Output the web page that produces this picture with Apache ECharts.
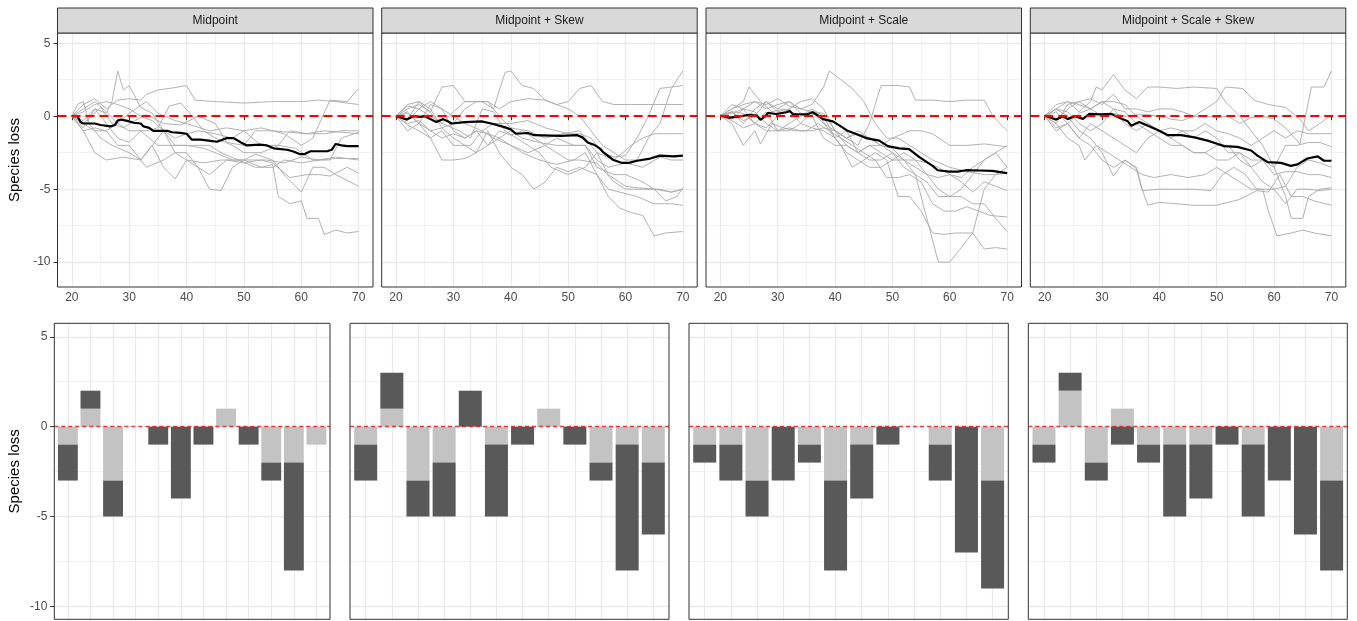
<!DOCTYPE html>
<html><head><meta charset="utf-8">
<script src="https://cdn.jsdelivr.net/npm/echarts@6/dist/echarts.min.js"></script>
<style>html,body{margin:0;padding:0;background:#fff}#c{width:1357px;height:621px}</style>
</head><body><div id="c"></div>
<script>
// ---------------- DATA ----------------
const facetTitles = ['Midpoint', 'Midpoint + Skew', 'Midpoint + Scale', 'Midpoint + Scale + Skew'];
const yTitle = 'Species loss';
const xTicks = [20, 30, 40, 50, 60, 70];
const xMinorTicks = [25, 35, 45, 55, 65];
const yTicks = [-10, -5, 0, 5];
const yMinorTicks = [-7.5, -2.5, 2.5];
const barCategories = [1, 2, 3, 4, 5, 6, 7, 8, 9, 10, 11, 12];

// mean trajectories (black lines)
const meanMidpoint = [[20,0],[21,0],[21.5,-0.4],[22,-0.5],[24,-0.5],[25,-0.6],[26.7,-0.7],[27.5,-0.6],[28,-0.3],[28.5,-0.23],[29.5,-0.3],[30.8,-0.45],[32,-0.5],[32.5,-0.7],[33.5,-0.8],[34.2,-1.0],[36.6,-1.0],[37.5,-1.1],[38.9,-1.14],[40,-1.2],[40.9,-1.6],[42.4,-1.6],[43.5,-1.65],[45.3,-1.75],[46,-1.65],[47,-1.5],[48.2,-1.5],[49.5,-1.8],[50.5,-2.0],[52.8,-1.95],[54,-2.0],[55.2,-2.2],[57.5,-2.3],[58.5,-2.4],[59.8,-2.6],[60.5,-2.6],[61.6,-2.4],[64.5,-2.4],[65.3,-2.3],[66,-1.9],[67,-2.0],[68,-2.05],[70,-2.05]];
const meanSkew = [[20,0],[21,-0.1],[21.8,-0.23],[22.5,-0.1],[23,0],[24.2,-0.05],[25,0],[26,-0.2],[27,-0.4],[28.2,-0.2],[29,-0.35],[29.7,-0.5],[32,-0.4],[34.9,-0.35],[36.6,-0.5],[38.9,-0.75],[40,-0.9],[40.9,-1.2],[43,-1.15],[44.1,-1.3],[48.7,-1.35],[51.6,-1.3],[52.5,-1.45],[53.4,-1.8],[54.5,-1.95],[55.5,-2.2],[56.2,-2.5],[57.9,-3.0],[59.4,-3.2],[60.6,-3.2],[62,-3.05],[64.3,-2.9],[66,-2.7],[68.4,-2.75],[70,-2.7]];
const meanScale = [[20,0.05],[21.6,-0.1],[22.8,-0.05],[25.1,0.1],[26.3,0.05],[27,-0.25],[27.7,-0.05],[28.3,0.23],[29.7,0.15],[31.5,0.27],[32.1,0.35],[32.6,0.15],[35,0.12],[36.1,0.27],[37,0.05],[37.9,-0.2],[39.6,-0.35],[40.8,-0.65],[42.2,-1.0],[44.2,-1.3],[45.4,-1.5],[47.7,-1.67],[49.2,-2.05],[51.2,-2.2],[52.9,-2.25],[54.7,-2.8],[57,-3.4],[57.9,-3.7],[59.9,-3.8],[61.4,-3.8],[62.8,-3.7],[65.1,-3.72],[67.4,-3.75],[70,-3.9]];
const meanScaleSkew = [[20,0.05],[22,-0.23],[23.2,0],[24,-0.2],[25.2,0],[26.7,-0.18],[27.8,0.16],[29.9,0.12],[31.6,0.16],[33,-0.1],[34.5,-0.35],[35.1,-0.65],[36.5,-0.4],[38,-0.65],[39.7,-0.95],[41.5,-1.3],[43.8,-1.3],[46.1,-1.45],[48.4,-1.67],[50.2,-1.9],[51.3,-2.05],[53.6,-2.1],[56,-2.35],[57.1,-2.7],[58.9,-3.15],[61.2,-3.2],[62.9,-3.4],[64.1,-3.3],[65.8,-2.9],[67.6,-2.75],[68.7,-3.05],[70,-3.05]];

// individual runs (grey lines)
const runsMidpoint = [
 [[20,0],[22,0.5],[24,1.0],[26,0.3],[28,-0.5],[30,0.2],[33,1.0],[35,0.2],[38,-0.3],[40,-0.5],[44,-1.0],[47,-0.8],[50,-1.0],[53,-0.8],[57,-1.2],[60,-2.0],[62,-1.5],[65,1.1],[68,1.0],[70,1.9]],
 [[20,0],[22,-0.3],[24,0.5],[26,0.2],[27,1.0],[28,3.1],[29,1.8],[30,2.1],[32,0.6],[34,0.2],[36,-1.0],[38,-2.0],[40,-2.0],[43,-2.2],[45,-2.5],[48,-3.0],[51,-3.0],[54,-3.0],[57,-3.2],[60,-2.8],[63,-3.0],[66,-2.9],[70,-2.9]],
 [[20,0],[22,0.8],[24,1.2],[26,0.5],[28,1.1],[30,1.2],[32,1.1],[33,1.5],[35,1.8],[37,1.9],[40,2.1],[41.5,1.1],[45,1.0],[50,0.9],[55,1.0],[60,1.0],[63,1.1],[66,1.0],[70,0.8]],
 [[20,0],[22,-1.0],[24,-2.5],[26,-3.0],[29,-2.8],[32,-3.0],[34,-2.0],[36,-1.0],[38,-2.5],[40,-3.0],[43,-3.2],[46,-3.0],[50,-3.0],[53,-3.5],[55,-3.3],[56,-5.5],[58,-6.0],[60,-5.8],[61,-7.0],[63,-7.0],[64,-8.1],[66,-7.8],[68,-8.0],[70,-7.9]],
 [[20,0],[21,0.8],[22,1.0],[23,-0.5],[25,-1.5],[27,-2.0],[30,-2.5],[32,-3.0],[34,-2.0],[36,-3.5],[38,-4.3],[40,-3.0],[42,-3.5],[44,-5.0],[46,-5.1],[48,-3.5],[50,-3.0],[52,-2.6],[55,-3.0],[57,-4.0],[60,-5.2],[62,-3.5],[64,-3.5],[66,-4.0],[70,-4.8]],
 [[20,0],[22,-0.5],[24,-1.0],[26,-1.0],[28,-2.0],[30,-2.0],[33,-3.5],[36,-3.0],[38,-2.5],[40,-2.5],[42,-3.5],[44,-4.0],[47,-3.0],[50,-3.2],[53,-3.0],[55,-3.2],[58,-4.2],[61,-4.0],[63,-4.0],[65,-4.1],[68,-3.5],[70,-3.9]],
 [[20,0],[22,-1.0],[24,-0.8],[26,-1.0],[28,-0.5],[30,-1.0],[33,-1.0],[35,-0.8],[37,0.7],[39,0.9],[41,0],[43,-1.0],[45,-1.5],[48,-2.0],[50,-2.5],[53,-2.5],[56,-2.0],[58,-1.0],[61,-1.2],[64,-1.2],[67,-1.0],[70,-1.0]],
 [[20,0],[22,-0.5],[25,0.6],[27,-0.5],[29,-0.8],[31,-0.3],[33,0.1],[36,-0.5],[39,-0.6],[42,0],[45,-0.5],[47,-1.8],[50,-2.0],[52,-1.0],[55,-1.0],[58,-1.1],[61,-1.2],[64,-1.0],[67,-1.1],[70,-1.2]],
 [[20,0],[22,-0.8],[24,0.5],[26,-0.5],[28,-1.5],[30,-1.8],[32,-1.0],[35,-2.0],[38,-2.0],[41,-2.0],[44,-2.0],[46,-2.5],[49,-3.0],[52,-3.5],[55,-3.5],[57,-3.0],[60,-3.2],[63,-3.0],[66,-2.8],[70,-3.0]],
 [[20,0],[22,0.3],[24,0.8],[26,1.0],[28,0.8],[30,0.5],[32,0],[34,-0.3],[36,-1.0],[38,-1.5],[40,-1.2],[42,-1.0],[45,-1.2],[48,-1.5],[50,-1.0],[53,-2.0],[56,-2.0],[59,-2.2],[62,-3.0],[65,-3.0],[67,-1.5],[70,-1.1]]
];
const runsSkew = [
 [[20,0],[22,0.5],[24,0.8],[26,0.3],[28,2.0],[30,2.1],[32,1.0],[34,1.0],[36,1.0],[38,0.5],[40,1.0],[43,1.2],[46,1.1],[48,0.8],[50,1.0],[52,1.9],[54,2.1],[56,1.0],[58,0.8],[61,0.8],[64,0.8],[67,0.8],[70,0.8]],
 [[20,0],[22,-0.2],[24,1.0],[26,0.2],[28,-0.5],[30,0.3],[32,1.0],[35,1.0],[37,0.5],[39,3.0],[40,3.1],[42,2.1],[44,1.9],[46,1.1],[48,0.8],[50,0.5],[52,0],[54,-1.0],[56,-2.0],[58,-2.5],[60,-3.0],[62,-3.0],[64,-1.5],[66,-0.5],[68,1.9],[70,3.1]],
 [[20,0],[22,-0.5],[24,-0.3],[26,-1.0],[28,-1.5],[30,-1.2],[32,-1.5],[34,-1.0],[36,-1.2],[38,-1.5],[40,-2.0],[42,-2.5],[45,-3.0],[48,-3.3],[51,-3.0],[53,-2.5],[55,-4.0],[57,-5.5],[59,-6.3],[61,-6.6],[63,-6.8],[64,-7.5],[65,-8.2],[67,-8.0],[70,-7.9]],
 [[20,0],[22,-1.0],[24,-0.5],[26,-1.5],[28,-3.0],[30,-3.0],[32,-2.9],[34,-2.5],[36,-1.0],[38,-2.5],[40,-3.5],[42,-4.0],[44,-5.0],[46,-4.5],[48,-3.5],[50,-3.8],[52,-3.5],[55,-4.0],[57,-5.0],[59,-5.2],[62,-5.5],[65,-6.0],[68,-6.0],[70,-6.1]],
 [[20,0],[22,0.7],[24,0.5],[26,0],[28,-0.5],[31,-1.0],[33,-1.5],[35,0.5],[37,0.3],[39,-1.0],[41,-1.5],[43,-2.0],[45,-2.5],[47,-3.5],[50,-4.0],[53,-3.5],[55,-2.5],[57,-4.0],[60,-4.8],[62,-4.9],[65,-5.0],[68,-5.2],[70,-5.0]],
 [[20,0],[22,0.3],[24,-0.5],[26,0.8],[28,0.5],[30,-1.0],[32,-1.5],[34,-1.0],[36,-2.0],[38,-1.5],[40,-1.0],[42,-1.5],[45,-1.8],[48,-2.0],[50,-2.0],[53,-2.0],[55,-3.0],[57,-3.5],[60,-3.2],[63,-3.5],[66,-2.8],[68,-3.0],[70,-3.0]],
 [[20,0],[22,0.8],[24,1.0],[26,0.5],[28,-0.8],[30,-0.5],[32,0.5],[34,1.0],[36,1.0],[38,0],[40,-0.8],[43,-1.0],[46,-1.5],[49,-1.2],[52,-1.0],[55,-2.5],[58,-3.0],[61,-2.0],[63,-1.5],[65,-1.2],[68,-1.2],[70,-1.2]],
 [[20,0],[22,-0.6],[24,-1.0],[26,-1.5],[28,-1.0],[30,-2.0],[33,-2.0],[35,-1.0],[37,-1.5],[40,-2.0],[43,-2.5],[46,-2.0],[48,-1.5],[51,-2.0],[53,-2.0],[55,-3.5],[58,-4.0],[60,-4.0],[63,-4.5],[65,-5.0],[67,-5.8],[69,-5.5],[70,-4.9]],
 [[20,0],[22,-0.3],[24,0.5],[26,1.0],[28,0.5],[30,0],[32,-0.5],[35,-1.0],[37,-0.5],[40,-0.5],[43,-0.3],[46,-0.8],[48,-1.0],[50,-1.2],[52,-1.2],[54,-1.5],[56,-2.5],[58,-2.8],[60,-2.7],[62,-1.5],[64,0],[66,1.9],[68,2.0],[70,2.1]],
 [[20,0],[22,0.2],[24,-0.5],[26,-1.0],[28,-0.8],[30,-1.5],[32,-2.0],[34,-2.5],[36,-2.0],[38,-1.0],[40,-1.3],[42,-1.0],[44,-1.5],[46,-2.0],[48,-2.5],[50,-3.0],[52,-3.0],[55,-3.2],[58,-4.5],[60,-5.0],[63,-5.0],[66,-5.0],[68,-5.2],[70,-5.0]]
];
const runsScale = [
 [[20,0],[22,0.5],[24,1.0],[25,2.0],[27,1.0],[29,0.3],[31,0.5],[33,0.2],[35,0],[37,0.2],[39,-1.0],[41,-1.5],[43,-2.0],[45,-2.5],[47,-3.0],[49,-4.2],[51,-4.2],[53,-4.0],[55,-4.5],[57,-6.0],[59,-6.5],[61,-6.5],[63,-6.2],[65,-6.5],[67,-6.8],[70,-6.9]],
 [[20,0],[22,-0.5],[24,-2.0],[26,-1.0],[27,-1.9],[29,-0.5],[31,-0.8],[33,-1.0],[35,-1.0],[37,-0.5],[39,-1.0],[41,-2.0],[43,-3.5],[45,-3.0],[47,-2.5],[49,-3.0],[51,-5.5],[53,-5.5],[55,-6.5],[57,-8.0],[59,-8.1],[61,-8.0],[64,-8.0],[66,-9.1],[68,-9.0],[70,-9.1]],
 [[20,0],[22,0.3],[24,-0.5],[26,0.5],[28,1.0],[30,0.5],[32,1.0],[34,0.2],[36,0],[38,-1.5],[40,-2.0],[42,-2.0],[44,-2.5],[46,-3.0],[48,-3.0],[50,-2.5],[52,-3.0],[54,-4.0],[56,-7.0],[58,-10.0],[60,-10.0],[62,-9.0],[64,-8.0],[66,-5.0],[68,-4.0],[70,-3.5]],
 [[20,0],[22,0.8],[24,0.5],[26,1.0],[28,0.8],[30,1.2],[32,0.7],[34,0.5],[36,0.8],[38,2.0],[39,3.1],[41,2.5],[43,1.9],[45,1.0],[47,-0.5],[49,-1.5],[51,-1.5],[53,-2.0],[55,-2.5],[57,-3.0],[60,-3.5],[63,-3.8],[66,-4.0],[68,-4.0],[70,-3.9]],
 [[20,0],[22,0.5],[24,0.8],[26,1.0],[28,0.5],[30,0.8],[32,1.0],[34,0.5],[36,0.3],[38,-0.5],[40,-1.0],[42,-1.5],[44,-2.0],[46,-0.5],[48,2.1],[51,2.1],[53,2.0],[54,1.1],[57,1.1],[60,1.0],[63,1.1],[66,1.1],[67.5,0],[70,-1.0]],
 [[20,0],[22,0.2],[24,0.5],[26,0.3],[28,-0.5],[30,-1.0],[32,-1.0],[34,-0.5],[36,0.3],[38,0.2],[40,-1.0],[42,-1.5],[44,-1.2],[46,-1.5],[48,-2.0],[50,-1.5],[53,-1.0],[55,-1.0],[57,-1.2],[60,-2.0],[63,-2.0],[66,-1.9],[68,-2.0],[70,-2.1]],
 [[20,0],[22,-0.2],[24,0.5],[26,-0.5],[28,-0.8],[30,0],[32,0.5],[34,-0.5],[36,-0.8],[38,-1.0],[40,-1.5],[42,-2.5],[44,-3.0],[46,-3.5],[48,-3.5],[50,-3.0],[52,-3.0],[54,-3.5],[56,-4.0],[58,-4.2],[60,-4.0],[62,-4.5],[64,-5.2],[66,-4.5],[68,-4.8],[70,-5.1]],
 [[20,0],[22,0.3],[24,0.2],[26,-0.5],[28,0.3],[30,-1.0],[32,-0.5],[34,0],[36,0.5],[38,0],[40,-1.5],[42,-1.0],[44,-2.5],[46,-2.0],[48,-2.5],[50,-3.0],[52,-2.5],[54,-3.0],[56,-4.0],[58,-5.0],[60,-5.5],[62,-5.5],[64,-6.0],[66,-6.0],[68,-7.0],[70,-7.9]],
 [[20,0],[22,-0.3],[24,-0.8],[26,-0.5],[28,-1.0],[30,-1.0],[32,-0.8],[34,-1.0],[36,-1.0],[38,-0.8],[40,-1.0],[42,-2.0],[44,-2.5],[46,-2.0],[48,-2.0],[50,-2.2],[52,-3.0],[54,-3.0],[56,-3.2],[58,-3.5],[60,-4.0],[62,-4.2],[64,-3.5],[66,-3.0],[68,-2.5],[70,-3.5]],
 [[20,0],[22,0.3],[24,-0.3],[26,0],[28,1.0],[30,0.3],[32,0.5],[34,1.0],[36,1.2],[38,0.5],[40,-1.0],[42,-1.5],[44,-1.0],[46,-1.5],[48,-2.0],[50,-2.5],[52,-3.5],[54,-4.0],[56,-4.5],[58,-5.5],[60,-5.5],[62,-5.0],[64,-4.0],[66,-3.0],[68,-2.5],[70,-2.0]]
];
const runsScaleSkew = [
 [[20,0],[22,0.5],[24,1.0],[26,0.3],[28,1.0],[29,2.0],[30,1.8],[32,2.85],[34,1.8],[36,1.2],[38,2.0],[40,2.0],[43,1.9],[46,2.0],[50,1.9],[51.5,1.0],[54,0],[56,-1.0],[58,-2.0],[60,-3.5],[62,-5.5],[63,-7.0],[65,-7.0],[66,-5.5],[68,-5.0],[70,-4.9]],
 [[20,0],[22,-0.5],[24,0.8],[26,1.0],[28,1.2],[30,0.8],[32,1.5],[34,0.5],[36,0.5],[38,0.3],[40,0.5],[42,0.5],[44,0.3],[46,0],[48,0.5],[50,1.0],[51.5,2.0],[54.5,1.9],[56.5,1.1],[59,0.8],[62,0.6],[64.5,-0.2],[66,-1.0],[68,-0.5],[70,0.1]],
 [[20,0],[22,0.3],[24,-0.5],[26,0.2],[28,0.5],[30,0],[32,0.2],[34,0],[36,0.1],[38,0.1],[40,0],[42,-0.2],[44,-0.3],[46,0],[48,0],[50,-0.1],[52,0],[54,-0.5],[56,-0.1],[58,0],[60,-0.2],[62,-0.8],[64.5,-1.9],[66.5,2.0],[68.7,2.0],[70,3.1]],
 [[20,0],[22,-1.0],[24,-0.5],[26,-1.5],[28,-2.0],[30,-3.0],[32,-3.5],[34,-3.0],[36,-3.5],[37,-5.0],[38,-6.1],[40,-5.9],[43,-6.0],[46,-6.1],[50,-6.1],[54,-5.7],[57,-5.1],[59,-5.2],[61,-4.0],[63,-5.5],[65,-5.5],[67,-5.8],[70,-6.1]],
 [[20,0],[22,-0.5],[24,-1.5],[26,-2.0],[27,-3.0],[29,-2.0],[31,-2.5],[33,-3.0],[35,-3.5],[37,-4.0],[39,-4.2],[42,-4.0],[45,-4.2],[48,-4.0],[50,-3.5],[52,-4.0],[54,-4.5],[56,-5.0],[58,-5.0],[59,-6.5],[60.5,-8.2],[63,-8.0],[65,-7.8],[67,-8.0],[70,-8.2]],
 [[20,0],[22,0.5],[24,0],[26,-1.0],[28,-1.5],[30,-2.5],[32,-4.1],[34,-3.0],[36,-3.6],[37,-5.1],[40,-5.0],[43,-5.0],[46,-5.0],[49,-5.1],[51,-4.0],[53,-3.5],[55,-4.0],[57,-5.0],[60,-5.0],[62,-6.0],[64,-5.0],[66,-5.0],[68,-5.1],[70,-5.0]],
 [[20,0],[22,0.5],[24,0.3],[26,-0.5],[28,-1.0],[30,-0.5],[32,0.5],[34,0.3],[36,-0.5],[38,-1.0],[40,-1.5],[42,-2.0],[44,-2.0],[46,-2.5],[48,-2.5],[50,-2.0],[52,-2.0],[54,-3.0],[56,-3.5],[58,-3.0],[60,-4.0],[62,-3.8],[64,-3.8],[66,-4.0],[68,-4.0],[70,-4.2]],
 [[20,0],[22,-0.3],[24,0.5],[26,1.0],[28,0.5],[30,1.0],[32,0.5],[34,-0.5],[36,-1.0],[38,-0.5],[40,-1.0],[42,-1.5],[44,-1.0],[46,-1.5],[48,-1.0],[50,-1.5],[52,-2.5],[54,-2.5],[56,-3.0],[58,-3.0],[60,-3.5],[62,-2.0],[64,-2.0],[66,-1.8],[68,-1.8],[70,-2.1]],
 [[20,0],[22,0.8],[24,1.0],[26,0.8],[28,0.5],[30,1.0],[32,1.0],[34,0.8],[36,0],[38,-0.5],[40,-1.0],[42,-0.8],[44,-1.0],[46,-1.0],[48,-0.5],[50,-1.0],[52,-1.2],[54,-1.5],[56,-2.0],[58,-1.5],[60,-1.0],[62,-1.5],[64,-1.0],[66,-1.2],[68,-1.2],[70,-1.2]],
 [[20,0],[22,-0.8],[24,-0.5],[26,-1.5],[28,-0.5],[30,-1.0],[32,-1.5],[34,-2.0],[36,-2.5],[38,-1.5],[40,-1.0],[42,-1.5],[44,-2.0],[46,-2.5],[48,-2.5],[50,-3.0],[52,-3.0],[54,-2.5],[56,-3.5],[58,-4.5],[60,-5.0],[62,-4.8],[64,-3.5],[66,-3.0],[68,-3.2],[70,-3.5]]
];

// bar panels: light segment (nearest zero) and dark segment stacked on it
const lightMidpoint      = [-1, 1, -3, 0, 0, 0, 0, 1, 0, -2, -2, -1];
const darkMidpoint       = [-2, 1, -2, 0, -1, -4, -1, 0, -1, -1, -6, 0];
const lightSkew          = [-1, 1, -3, -2, 0, -1, 0, 1, 0, -2, -1, -2];
const darkSkew           = [-2, 2, -2, -3, 2, -4, -1, 0, -1, -1, -7, -4];
const lightScale         = [-1, -1, -3, 0, -1, -3, -1, 0, 0, -1, 0, -3];
const darkScale          = [-1, -2, -2, -3, -1, -5, -3, -1, 0, -2, -7, -6];
const lightScaleSkew     = [-1, 2, -2, 1, -1, -1, -1, 0, -1, 0, 0, -3];
const darkScaleSkew      = [-1, 1, -1, -1, -1, -4, -3, -1, -4, -3, -6, -5];

// ---------------- LAYOUT / STYLE ----------------
const FONT = "'Liberation Sans', Arial, sans-serif";
const topLefts = [57.5, 381.7, 706, 1030.3];
const topW = 315.5, topTop = 33, topH = 254;
const stripTop = 8, stripH = 25;
const botLefts = [54.3, 350, 689, 1028.3];
const botWs = [275.7, 319, 319.3, 319];
const botTop = 323.3, botH = 296;
const topXRange = [17.5, 72.5], topYRange = [-11.7, 5.7];
const botXRange = [0.4, 12.6], botYRange = [-10.72, 5.75];

const means = [meanMidpoint, meanSkew, meanScale, meanScaleSkew];
const runs = [runsMidpoint, runsSkew, runsScale, runsScaleSkew];
const lights = [lightMidpoint, lightSkew, lightScale, lightScaleSkew];
const darks = [darkMidpoint, darkSkew, darkScale, darkScaleSkew];

const grids = [], xAxes = [], yAxes = [], series = [], graphics = [];
const majorStyle = {color: '#ebebeb', width: 1.3, type: 'solid'};
const minorStyle = {color: '#ededed', width: 0.7, type: 'solid'};

function gridLineSeries(idx, xs, xsMinor, ys, ysMinor) {
  const data = [];
  xsMinor.forEach(v => data.push({xAxis: v, lineStyle: minorStyle}));
  ysMinor.forEach(v => data.push({yAxis: v, lineStyle: minorStyle}));
  xs.forEach(v => data.push({xAxis: v, lineStyle: majorStyle}));
  ys.forEach(v => data.push({yAxis: v, lineStyle: majorStyle}));
  series.push({type: 'line', xAxisIndex: idx, yAxisIndex: idx, data: [], z: 0, silent: true, animation: false,
    markLine: {z: 0, silent: true, symbol: ['none', 'none'], label: {show: false}, animation: false, data: data}});
}
function zeroLine(idx, style, z) {
  series.push({type: 'line', xAxisIndex: idx, yAxisIndex: idx, data: [], z: z, silent: true, animation: false,
    markLine: {z: z, silent: true, symbol: ['none', 'none'], label: {show: false}, animation: false,
      data: [{yAxis: 0, lineStyle: style}]}});
}
function fmt(list) { return v => (list.indexOf(v) >= 0 ? String(v) : ''); }
const hiddenAxis = {axisLine: {show: false}, splitLine: {show: false}, axisTick: {show: false}, axisLabel: {show: false}};

// top row: grids 0..3
for (let i = 0; i < 4; i++) {
  grids.push({left: topLefts[i], top: topTop, width: topW, height: topH, show: false, containLabel: false});
  xAxes.push({gridIndex: i, type: 'value', min: topXRange[0], max: topXRange[1], splitNumber: 5,
    axisLine: {show: false}, splitLine: {show: false},
    axisTick: {show: true, length: 4, lineStyle: {color: '#333', width: 1}, customValues: xTicks},
    axisLabel: {show: true, color: '#4d4d4d', fontSize: 12, fontFamily: FONT, margin: 5, customValues: xTicks, formatter: fmt(xTicks)}});
  yAxes.push({gridIndex: i, type: 'value', min: topYRange[0], max: topYRange[1], splitNumber: 3,
    axisLine: {show: false}, splitLine: {show: false},
    axisTick: {show: i === 0, length: 4, lineStyle: {color: '#333', width: 1}, customValues: yTicks},
    axisLabel: {show: i === 0, color: '#4d4d4d', fontSize: 12, fontFamily: FONT, margin: 7, customValues: yTicks, formatter: fmt(yTicks)},
    name: i === 0 ? yTitle : '', nameLocation: 'middle', nameGap: 35,
    nameTextStyle: {fontSize: 15, color: '#000', fontFamily: FONT}});
  gridLineSeries(i, xTicks, xMinorTicks, yTicks, yMinorTicks);
  runs[i].forEach(r => series.push({type: 'line', xAxisIndex: i, yAxisIndex: i, data: r, showSymbol: false, symbol: 'none',
    lineStyle: {color: '#a9a9a9', width: 0.9}, z: 2, silent: true, animation: false}));
  series.push({type: 'line', xAxisIndex: i, yAxisIndex: i, data: means[i], showSymbol: false, symbol: 'none',
    lineStyle: {color: '#000', width: 2.2}, z: 3, silent: true, animation: false});
  zeroLine(i, {color: '#ff0000', width: 2.2, type: [9, 5]}, 4);
  graphics.push({type: 'rect', shape: {x: topLefts[i], y: topTop, width: topW, height: topH},
    style: {fill: 'none', stroke: '#333', lineWidth: 1}, z: 100, silent: true});
  graphics.push({type: 'rect', shape: {x: topLefts[i], y: stripTop, width: topW, height: stripH},
    style: {fill: '#d9d9d9', stroke: '#333', lineWidth: 1}, z: 100, silent: true});
  graphics.push({type: 'text', x: topLefts[i] + topW / 2, y: stripTop + stripH / 2 + 0.5, z: 101, silent: true,
    style: {text: facetTitles[i], fill: '#1a1a1a', font: '12px ' + FONT, align: 'center', verticalAlign: 'middle'}});
}

// bottom row: grids 4..7 hold the panel grid lines (value axes), grids 8..11 hold the bars (category axes)
for (let i = 0; i < 4; i++) {
  const g = 4 + i;
  grids.push({left: botLefts[i], top: botTop, width: botWs[i], height: botH, show: false, containLabel: false});
  xAxes.push(Object.assign({gridIndex: g, type: 'value', min: botXRange[0], max: botXRange[1]}, hiddenAxis));
  yAxes.push({gridIndex: g, type: 'value', min: botYRange[0], max: botYRange[1], splitNumber: 3,
    axisLine: {show: false}, splitLine: {show: false},
    axisTick: {show: i === 0, length: 4, lineStyle: {color: '#333', width: 1}, customValues: yTicks},
    axisLabel: {show: i === 0, color: '#4d4d4d', fontSize: 12, fontFamily: FONT, margin: 7, customValues: yTicks, formatter: fmt(yTicks)},
    name: i === 0 ? yTitle : '', nameLocation: 'middle', nameGap: 32,
    nameTextStyle: {fontSize: 15, color: '#000', fontFamily: FONT}});
  gridLineSeries(g, barCategories, [], yTicks, yMinorTicks);
  zeroLine(g, {color: 'rgba(255,0,0,0.75)', width: 1.3, type: [4, 3]}, 4);
  graphics.push({type: 'rect', shape: {x: botLefts[i], y: botTop, width: botWs[i], height: botH},
    style: {fill: 'none', stroke: '#333', lineWidth: 1}, z: 100, silent: true});
}
for (let i = 0; i < 4; i++) {
  const g = 8 + i;
  const span = botXRange[1] - botXRange[0];
  const band = botWs[i] / span;
  const pad = (barCategories[0] - botXRange[0]) - 0.5; // ggplot's 0.6 expansion minus the 0.5 of ECharts' band
  grids.push({left: botLefts[i] + pad * band, top: botTop, width: band * barCategories.length, height: botH, show: false, containLabel: false});
  xAxes.push(Object.assign({gridIndex: g, type: 'category', data: barCategories.map(String), boundaryGap: true}, hiddenAxis));
  yAxes.push(Object.assign({gridIndex: g, type: 'value', min: botYRange[0], max: botYRange[1]}, hiddenAxis));
  series.push({type: 'bar', xAxisIndex: g, yAxisIndex: g, stack: 'b' + i, barWidth: '88%',
    data: lights[i], itemStyle: {color: '#c3c3c3'}, z: 2, silent: true, animation: false});
  series.push({type: 'bar', xAxisIndex: g, yAxisIndex: g, stack: 'b' + i, barWidth: '88%',
    data: darks[i], itemStyle: {color: '#595959'}, z: 2, silent: true, animation: false});
}

const chart = echarts.init(document.getElementById('c'), null, {renderer: 'canvas'});
chart.setOption({
  animation: false,
  backgroundColor: '#fff',
  textStyle: {fontFamily: FONT},
  grid: grids, xAxis: xAxes, yAxis: yAxes, series: series,
  graphic: {elements: graphics}
});
</script>
</body></html>
